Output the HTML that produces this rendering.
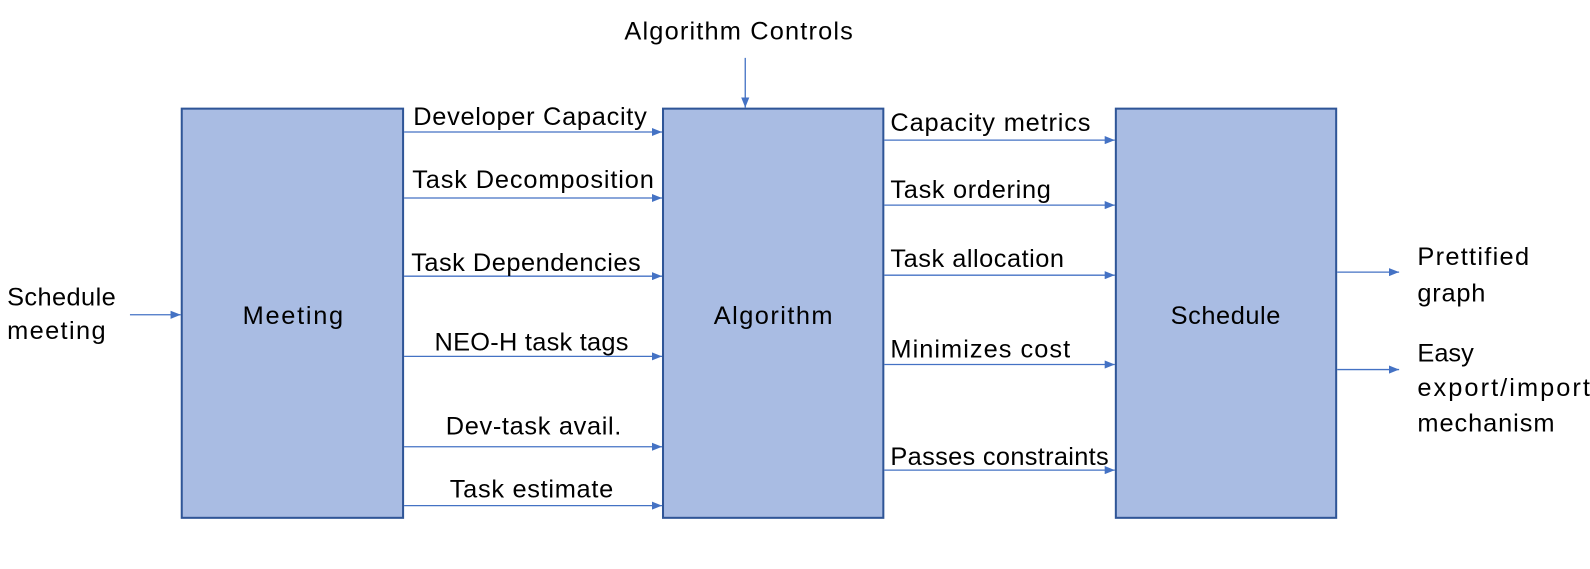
<!DOCTYPE html>
<html><head><style>html,body{margin:0;padding:0;background:#fff}svg{display:block}text{font-family:"Liberation Sans",sans-serif;font-size:25px;fill:#000}</style></head><body>
<svg width="1590" height="569" viewBox="0 0 1566 560.4" preserveAspectRatio="none">
<defs><marker id="a" markerWidth="10" markerHeight="8" refX="10" refY="4" orient="auto" markerUnits="userSpaceOnUse"><path d="M0,0L10,4L0,8z" fill="#4472c4"/></marker></defs>
<g fill="#a9bce3" stroke="#2f5597" stroke-width="2">
<rect x="179" y="107" width="218" height="403"/>
<rect x="653" y="107" width="217" height="403"/>
<rect x="1099" y="107" width="217" height="403"/>
</g>
<g stroke="#4472c4" stroke-width="1.3" marker-end="url(#a)">
<line x1="128" y1="310" x2="178" y2="310"/>
<line x1="734" y1="57" x2="734" y2="106"/>
<line x1="398" y1="130" x2="652" y2="130"/>
<line x1="398" y1="195" x2="652" y2="195"/>
<line x1="398" y1="272" x2="652" y2="272"/>
<line x1="398" y1="351" x2="652" y2="351"/>
<line x1="398" y1="440" x2="652" y2="440"/>
<line x1="398" y1="498" x2="652" y2="498"/>
<line x1="871" y1="138" x2="1098" y2="138"/>
<line x1="871" y1="202" x2="1098" y2="202"/>
<line x1="871" y1="271" x2="1098" y2="271"/>
<line x1="871" y1="359" x2="1098" y2="359"/>
<line x1="871" y1="463" x2="1098" y2="463"/>
<line x1="1317" y1="268" x2="1378" y2="268"/>
<line x1="1317" y1="364" x2="1378" y2="364"/>
</g>
<text x="615" y="39" textLength="225">Algorithm Controls</text>
<text x="239" y="319" textLength="99">Meeting</text>
<text x="703" y="319" textLength="117">Algorithm</text>
<text x="1153" y="319" textLength="108">Schedule</text>
<text x="7" y="301" textLength="107">Schedule</text>
<text x="7" y="334" textLength="97">meeting</text>
<text x="407" y="123" textLength="230">Developer Capacity</text>
<text x="406" y="185" textLength="238">Task Decomposition</text>
<text x="405" y="267" textLength="226">Task Dependencies</text>
<text x="428" y="345" textLength="191">NEO-H task tags</text>
<text x="439" y="428" textLength="173">Dev-task avail.</text>
<text x="443" y="490" textLength="161">Task estimate</text>
<text x="877" y="129" textLength="197">Capacity metrics</text>
<text x="877" y="195" textLength="158">Task ordering</text>
<text x="877" y="263" textLength="171">Task allocation</text>
<text x="877" y="352" textLength="177">Minimizes cost</text>
<text x="877" y="458" textLength="215">Passes constraints</text>
<text x="1396" y="261" textLength="110">Prettified</text>
<text x="1396" y="297" textLength="67">graph</text>
<text x="1396" y="356">Easy</text>
<text x="1396" y="390" textLength="170">export/import</text>
<text x="1396" y="425" textLength="135">mechanism</text>
</svg>
</body></html>
